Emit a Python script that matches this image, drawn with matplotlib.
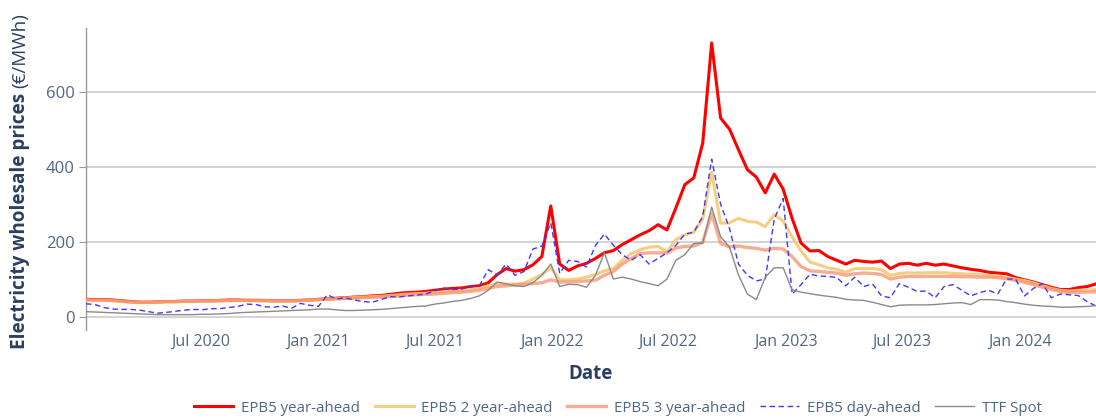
import numpy as np
import pandas as pd
import matplotlib
matplotlib.use("Agg")
import matplotlib.pyplot as plt
import matplotlib.dates as mdates

# ---------------- data (roughly bi-weekly) ----------------
start_date = "2020-01-04"
end_date = "2024-04-29"
n_points = 114

year_ahead = [46, 45, 45, 44, 42, 40, 38, 38, 39, 40, 40, 41, 41, 42, 42, 43, 44, 44, 43, 43,
              43, 42, 42, 42, 43, 44, 46, 47, 49, 50, 52, 53, 55, 56, 59, 62, 64, 65, 67, 70,
              73, 75, 76, 80, 82, 90, 112, 128, 121, 125, 138, 160, 295, 140, 123, 135, 142, 155, 170, 176,
              192, 205, 218, 229, 245, 231, 290, 352, 370, 463, 730, 530, 500, 445, 392, 372, 330, 380, 340, 262,
              196, 175, 176, 160, 150, 140, 150, 147, 145, 148, 128, 140, 142, 137, 142, 137, 140, 135, 130, 126,
              123, 118, 116, 114, 104, 98, 92, 85, 78, 72, 72, 77, 80, 87]

two_year_ahead = [44, 43, 43, 42, 40, 38, 37, 37, 38, 39, 39, 40, 40, 41, 41, 42, 42, 43, 42, 42,
                  42, 41, 41, 41, 42, 43, 45, 46, 48, 49, 51, 52, 53, 54, 56, 58, 60, 61, 62, 64,
                  66, 68, 69, 72, 75, 82, 87, 87, 86, 89, 100, 112, 130, 98, 98, 100, 105, 112, 122, 128,
                  150, 168, 178, 185, 187, 173, 205, 218, 225, 260, 385, 249, 250, 262, 254, 252, 240, 272, 255, 212,
                  175, 145, 138, 130, 126, 118, 128, 128, 128, 125, 110, 115, 117, 116, 117, 117, 117, 115, 114, 113,
                  112, 110, 108, 105, 100, 96, 90, 82, 75, 70, 68, 70, 70, 72]

three_year_ahead = [45, 44, 44, 43, 41, 39, 38, 38, 39, 40, 40, 41, 41, 42, 42, 42, 43, 43, 43, 43,
                    42, 42, 42, 42, 43, 44, 45, 46, 47, 48, 49, 50, 51, 52, 54, 55, 57, 58, 59, 60,
                    62, 64, 65, 67, 70, 75, 80, 82, 84, 86, 88, 90, 98, 92, 92, 93, 95, 97, 110, 120,
                    140, 155, 168, 170, 170, 169, 183, 187, 188, 198, 275, 195, 186, 188, 184, 182, 177, 182, 180, 160,
                    133, 122, 120, 118, 116, 110, 114, 116, 115, 112, 100, 105, 107, 107, 107, 107, 107, 107, 106, 106,
                    105, 105, 104, 101, 96, 91, 85, 78, 72, 67, 64, 65, 65, 66]

day_ahead = [34, 32, 24, 20, 19, 19, 17, 13, 9, 11, 14, 17, 19, 18, 21, 21, 24, 27, 33, 32,
             26, 25, 28, 22, 35, 30, 27, 58, 47, 50, 44, 40, 38, 45, 53, 52, 55, 57, 60, 68,
             76, 72, 73, 80, 82, 125, 111, 140, 110, 120, 180, 188, 250, 115, 150, 147, 132, 190, 220, 190,
             165, 150, 165, 140, 155, 170, 190, 220, 225, 267, 420, 300, 235, 140, 110, 95, 100, 260, 315, 60,
             85, 113, 108, 107, 104, 82, 105, 80, 87, 55, 50, 88, 78, 67, 68, 50, 80, 85, 70, 55,
             64, 70, 60, 100, 100, 55, 75, 88, 50, 60, 58, 56, 40, 28]

ttf_spot = [13, 12, 11, 10, 9, 8, 7, 6, 5, 5, 5, 5, 5, 6, 6, 7, 8, 10, 11, 12,
            13, 14, 15, 16, 17, 18, 20, 20, 18, 16, 16, 17, 18, 19, 21, 23, 25, 27, 28, 33,
            36, 40, 43, 48, 55, 70, 92, 87, 82, 80, 90, 110, 140, 80, 86, 85, 78, 110, 170, 100,
            105, 100, 93, 88, 82, 100, 150, 165, 195, 196, 292, 213, 185, 111, 60, 45, 105, 130, 130, 71,
            65, 61, 57, 54, 51, 46, 44, 43, 38, 32, 26, 30, 31, 31, 31, 32, 34, 36, 37, 32,
            45, 45, 44, 40, 37, 33, 30, 28, 27, 25, 25, 26, 27, 29]

series_names = ["EPB5 year-ahead", "EPB5 2 year-ahead", "EPB5 3 year-ahead",
                "EPB5 day-ahead", "TTF Spot"]

xtick_dates = ["2020-07-01", "2021-01-01", "2021-07-01", "2022-01-01",
               "2022-07-01", "2023-01-01", "2023-07-01", "2024-01-01"]
xtick_labels = ["Jul 2020", "Jan 2021", "Jul 2021", "Jan 2022",
                "Jul 2022", "Jan 2023", "Jul 2023", "Jan 2024"]
ytick_values = [0, 200, 400, 600]

# ---------------- styling ----------------
plt.rcParams["font.family"] = ["Open Sans", "DejaVu Sans"]
TICK_COLOR = "#506784"
TITLE_COLOR = "#2a3f5f"

dates = pd.date_range(start_date, end_date, periods=n_points)

W, H = 1096, 419
fig = plt.figure(figsize=(W / 100, H / 100), dpi=100)
ax = fig.add_axes([86 / W, (H - 330) / H, (W - 86) / W, (330 - 28) / H])

styles = [
    dict(color="#ff0000", lw=2.2, zorder=3),
    dict(color="#f7c873", lw=2.2, zorder=3, alpha=0.9),
    dict(color="#f7906e", lw=2.4, zorder=3, alpha=0.75),
    dict(color="#3a3aff", lw=1.0, zorder=4, linestyle=(0, (4, 2.5))),
    dict(color="#8a8a8a", lw=1.0, zorder=4),
]
all_series = [year_ahead, two_year_ahead, three_year_ahead, day_ahead, ttf_spot]
for name, vals, st in zip(series_names, all_series, styles):
    ax.plot(dates, vals, label=name, solid_joinstyle="round", **st)

ax.set_xlim(dates[0], dates[-1])
ax.set_ylim(-36, 770)

ax.set_yticks(ytick_values)
ax.set_yticklabels([str(v) for v in ytick_values])
ax.set_xticks(pd.to_datetime(xtick_dates))
ax.set_xticklabels(xtick_labels)

ax.grid(axis="y", color="#cccccc", lw=1.2, zorder=0)
ax.grid(axis="x", visible=False)
for s in ["top", "right", "bottom"]:
    ax.spines[s].set_visible(False)
ax.spines["left"].set_color("#9a9a9a")
ax.spines["left"].set_linewidth(1.0)

ax.tick_params(axis="y", length=5, color="#9a9a9a", pad=3, labelsize=12, labelcolor=TICK_COLOR)
ax.tick_params(axis="x", length=0, pad=3, labelsize=11.5, labelcolor=TICK_COLOR)

ax.set_xlabel("Date", fontsize=13.5, fontweight="bold", color=TITLE_COLOR, labelpad=10)

# y-axis title: bold part + normal unit part
fig.canvas.draw()
renderer = fig.canvas.get_renderer()
t1 = fig.text(20 / W, (H - 349) / H, "Electricity wholesale prices", rotation=90,
              ha="center", va="bottom", fontsize=13.6, fontweight="bold", color=TITLE_COLOR)
bb = t1.get_window_extent(renderer=renderer)
fig.text(20 / W, (bb.y1 + 5) / H, "(€/MWh)", rotation=90,
         ha="center", va="bottom", fontsize=13.6, color=TITLE_COLOR)

leg = fig.legend(loc="center", bbox_to_anchor=(618 / W, 11 / H), ncol=5, frameon=False,
                 fontsize=10.8, handlelength=2.6, columnspacing=1.0, handletextpad=0.5,
                 labelcolor=TICK_COLOR)

fig.savefig("out.png", dpi=100)
